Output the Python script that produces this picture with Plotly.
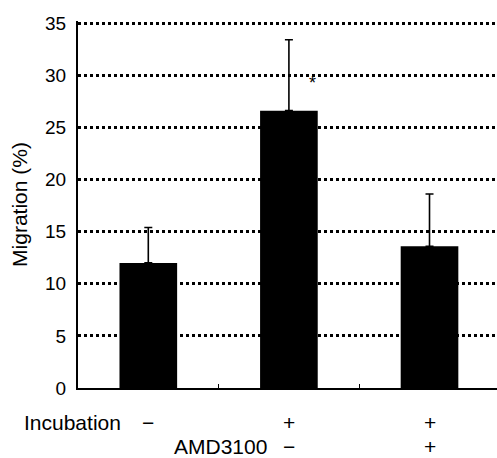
import plotly.graph_objects as go

categories = ["ctrl", "inc", "inc_amd"]
migration = [12.0, 26.6, 13.6]
error_up = [3.4, 6.8, 5.0]
incubation_labels = ["−", "+", "+"]
amd_labels = ["−", "+"]
y_ticks = [0, 5, 10, 15, 20, 25, 30, 35]

FONT = "Liberation Sans, Arial, sans-serif"
x_idx = list(range(len(categories)))

fig = go.Figure()
fig.add_trace(go.Bar(
    x=x_idx, y=migration, width=0.41,
    marker=dict(color="black", line=dict(width=0)),
    error_y=dict(type="data", array=error_up, symmetric=False,
                 arrayminus=[0, 0, 0], color="black", thickness=1.6, width=4),
))

annotations = []
annotations.append(dict(x=1.17, y=29.3, xref="x", yref="y", text="*", showarrow=False,
                        font=dict(size=18, color="black", family=FONT)))
LBL_Y1 = -34
LBL_Y2 = -58
annotations.append(dict(x=0, y=0, xref="paper", yref="y", text="Incubation",
                        showarrow=False, xanchor="left", yanchor="middle",
                        xshift=-56, yshift=LBL_Y1, font=dict(size=21, color="black", family=FONT)))
for i, t in enumerate(incubation_labels):
    annotations.append(dict(x=x_idx[i], y=0, xref="x", yref="y", text=t,
                            showarrow=False, yanchor="middle", yshift=LBL_Y1,
                            font=dict(size=21, color="black", family=FONT)))
annotations.append(dict(x=1, y=0, xref="x", yref="y", text="AMD3100",
                        showarrow=False, xanchor="right", yanchor="middle", xshift=-20,
                        yshift=LBL_Y2, font=dict(size=21, color="black", family=FONT)))
for i, t in enumerate(amd_labels):
    annotations.append(dict(x=x_idx[i + 1], y=0, xref="x", yref="y", text=t,
                            showarrow=False, yanchor="middle", yshift=LBL_Y2,
                            font=dict(size=21, color="black", family=FONT)))

fig.update_layout(
    width=497, height=458,
    margin=dict(l=78, r=0, t=21, b=70),
    paper_bgcolor="white", plot_bgcolor="white",
    showlegend=False,
    font=dict(family=FONT, color="black"),
    annotations=annotations,
    xaxis=dict(range=[-0.5, 2.48], showgrid=False, zeroline=False,
               showline=True, linecolor="black", linewidth=2,
               tickvals=[0.5, 1.5], ticktext=["", ""], ticks="inside",
               ticklen=4, tickwidth=1, tickcolor="black"),
    yaxis=dict(range=[0, 35.2], tickvals=y_ticks, showgrid=True,
               gridcolor="black", gridwidth=2.5, griddash="3px,3px",
               zeroline=False, showline=True, linecolor="black", linewidth=2,
               ticks="", tickfont=dict(size=19, family=FONT, color="black"),
               ticklabelstandoff=6,
               title=dict(text="Migration (%)", font=dict(size=21, family=FONT, color="black"),
                          standoff=12)),
)

fig.write_html("out.html", config={"displayModeBar": False},
               post_script="document.body.style.margin='0';document.body.style.overflow='hidden';")
